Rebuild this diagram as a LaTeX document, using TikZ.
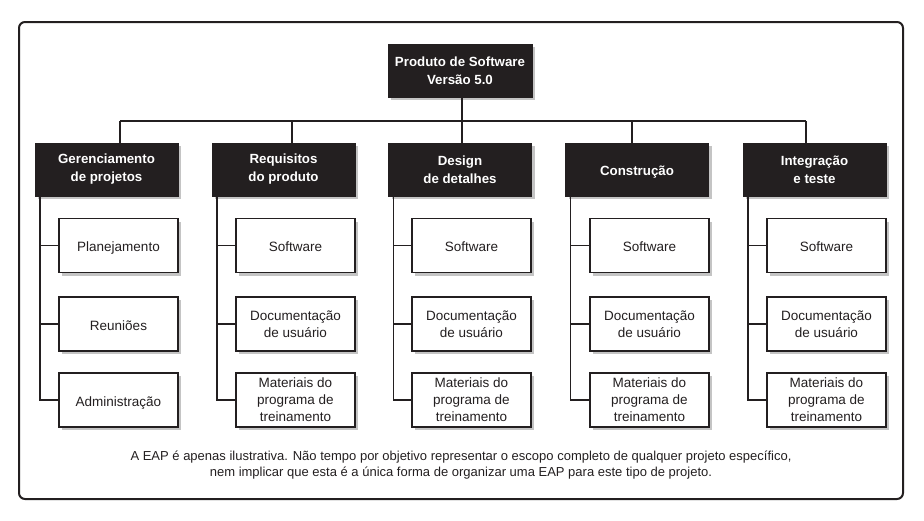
\documentclass[tikz,border=0pt]{standalone}
\usepackage{fontspec}
\setmainfont{Liberation Sans}
\usetikzlibrary{shadows}
\definecolor{boxblack}{HTML}{231F20}
\definecolor{shade}{HTML}{C4C4C4}
\begin{document}
\begin{tikzpicture}[x=1pt,y=-1pt,
  shd/.style={general shadow={fill=shade, shadow xshift=3pt, shadow yshift=-3pt}},
  topbox/.style={shd, draw=boxblack, fill=boxblack, line width=1pt, text=white,
    font=\fontsize{13.3}{18}\selectfont\bfseries, align=center,
    minimum width=143pt, minimum height=53pt, inner sep=0pt},
  subbox/.style={shd, draw=boxblack, fill=white, line width=1.4pt, text=boxblack,
    font=\fontsize{13.5}{17}\selectfont, align=center,
    minimum width=119pt, minimum height=54pt, inner sep=0pt},
  oneline/.style={text height=12pt, text depth=0pt},
  conn/.style={draw=boxblack, line width=1.4pt}]
\useasboundingbox (0,0) rectangle (924,520);
\draw[line width=2pt, rounded corners=6pt, draw=boxblack] (19,22) rectangle (903,499);

\node[topbox, minimum width=144pt] (root) at (460,70.5) {Produto de Software\\Versão 5.0};

\node[topbox] (g1) at (106.5,169.5) {Gerenciamento\\de projetos};
\node[topbox] (g2) at (283.5,169.5) {Requisitos\\do produto};
\node[topbox] (g3) at (460,169.5) {Design\\de detalhes};
\node[topbox, oneline] (g4) at (637,169.5) {Construção};
\node[topbox] (g5) at (814.5,169.5) {Integração\\e teste};

% bus
\coordinate (b1) at (120,121);
\coordinate (b2) at (292,121);
\coordinate (b3) at (462,121);
\coordinate (b4) at (632,121);
\coordinate (b5) at (806,121);
\draw[conn] (root.south -| b3) -- (b3);
\draw[conn] (b1) -- (b5);
\foreach \i in {1,...,5} { \draw[conn] (b\i) -- (b\i |- g\i.north); }

% children column 1
\node[subbox, oneline] (c11) at (118.5,245.5) {Planejamento};
\node[subbox, oneline] (c12) at (118.5,324) {Reuniões};
\node[subbox, oneline] (c13) at (118.5,400) {Administração};
% columns 2-5
\foreach \i/\x in {2/295.5,3/471.5,4/649.5,5/826.5} {
  \node[subbox, oneline] (c\i1) at (\x,245.5) {Software};
  \node[subbox] (c\i2) at (\x,324) {Documentação\\de usuário};
  \node[subbox] (c\i3) at (\x,400) {Materiais do\\programa de\\treinamento};
}

\foreach \i in {1,...,5} {
  \draw[conn] ([xshift=5.5pt]g\i.south west) |- (c\i3.west);
  \draw[conn] (c\i1.west) -- ([xshift=5.5pt]g\i.south west |- c\i1.west);
  \draw[conn] (c\i2.west) -- ([xshift=5.5pt]g\i.south west |- c\i2.west);
}

\node[font=\fontsize{13}{16}\selectfont, align=center, text=boxblack, inner sep=0pt] (cap) at (461,465)
  {A EAP é apenas ilustrativa. Não tempo por objetivo representar o escopo completo de qualquer projeto específico,\\
   nem implicar que esta é a única forma de organizar uma EAP para este tipo de projeto.};
\end{tikzpicture}
\end{document}
